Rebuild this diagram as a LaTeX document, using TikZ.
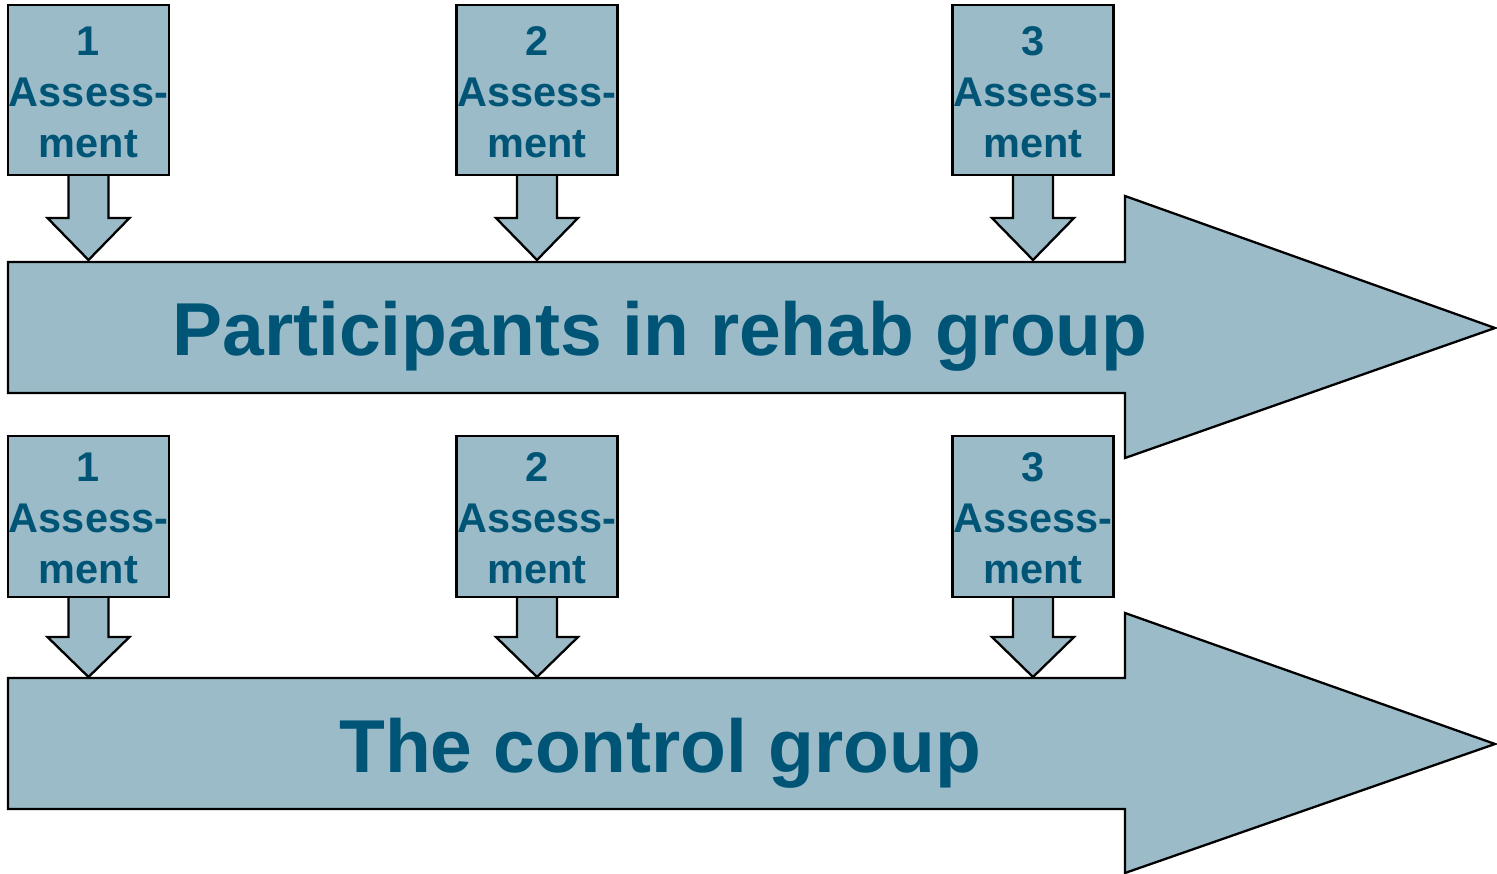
\documentclass[tikz,border=0pt]{standalone}
\usepackage{fontspec}
\setmainfont{Liberation Sans}
\usepackage{tikz}

\definecolor{arrowfill}{RGB}{155,187,200}
\definecolor{textblue}{RGB}{0,85,119}

\tikzset{
  shapefill/.style={fill=arrowfill, draw=black, line width=2.3pt, line join=miter},
  assessbox/.style={shapefill, rectangle, minimum width=161pt, inner sep=0pt},
  assesstext/.style={text width=161pt, inner sep=0pt, align=center, text=textblue,
                     font=\fontsize{41.5}{51}\selectfont\bfseries},
  grouptext/.style={text=textblue, anchor=base, inner sep=0pt,
                    font=\fontsize{75}{90}\selectfont\bfseries}
}

\begin{document}
\begin{tikzpicture}[x=1pt, y=-1pt]
    \useasboundingbox (0,0) rectangle (1497,874);

    % assessment boxes with their down arrows, rehab row
    \foreach \c/\n in {88.5/1, 537/2, 1033/3} {
        \draw[shapefill] (\c-20,170) -- (\c-20,218) -- (\c-41,218) -- (\c,260)
            -- (\c+41,218) -- (\c+20,218) -- (\c+20,170);
        \node[assessbox, minimum height=170pt] (r\n) at (\c,90) {};
        \node[assesstext] (rt\n) at (\c,92) {\n\\Assess-\\ment};
    }

    % assessment boxes with their down arrows, control row
    \foreach \c/\n in {88.5/1, 537/2, 1033/3} {
        \draw[shapefill] (\c-20,592) -- (\c-20,637) -- (\c-41,637) -- (\c,677)
            -- (\c+41,637) -- (\c+20,637) -- (\c+20,592);
        \node[assessbox, minimum height=161pt] (c\n) at (\c,516.5) {};
        \node[assesstext] (ct\n) at (\c,518) {\n\\Assess-\\ment};
    }

    % the two big time arrows
    \draw[shapefill] (8,262) -- (1125,262) -- (1125,196) -- (1495,328)
        -- (1125,458) -- (1125,393) -- (8,393) -- cycle;
    \draw[shapefill] (8,678) -- (1125,678) -- (1125,613) -- (1495,744)
        -- (1125,873) -- (1125,809) -- (8,809) -- cycle;

    \node[grouptext] (rehab) at (660,356) {Participants in rehab group};
    \node[grouptext] (control) at (660,772) {The control group};
\end{tikzpicture}
\end{document}
